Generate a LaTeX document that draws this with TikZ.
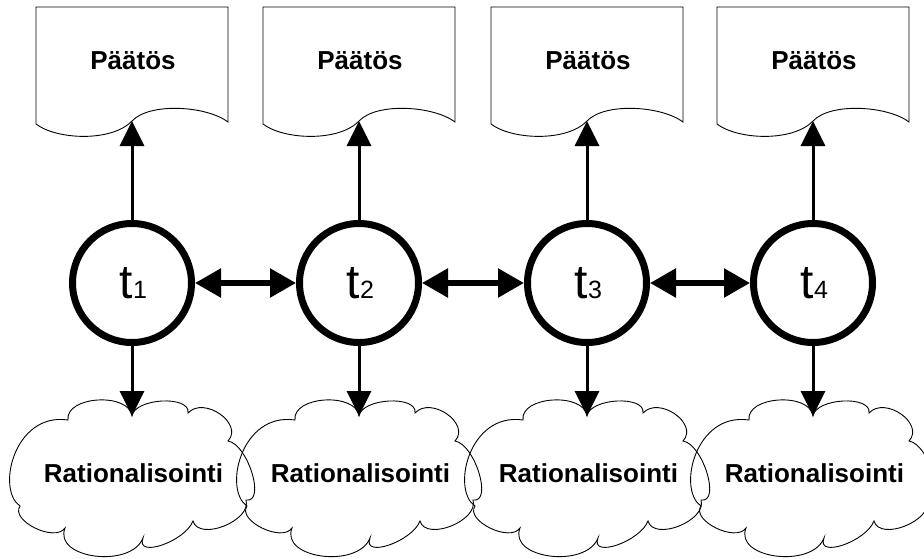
\documentclass[tikz,border=0pt]{standalone}
\usepackage{fontspec}
\setmainfont{Liberation Sans}
\usetikzlibrary{arrows.meta}
\begin{document}
\begin{tikzpicture}[x=1pt,y=-1pt,
  docline/.style={draw=black,line width=0.9pt},
  doctext/.style={anchor=base,inner sep=0pt,font=\fontsize{26}{26}\selectfont\bfseries},
  tnode/.style={circle,draw=black,line width=7pt,minimum size=119pt,inner sep=0pt},
  tlabel/.style={anchor=base,inner sep=0pt,font=\fontsize{48}{48}\selectfont},
  cloudline/.style={draw=black,line width=0.9pt},
  cloudtext/.style={anchor=base,inner sep=0pt,font=\fontsize{26}{26}\selectfont\bfseries},
  vert/.style={line width=3pt,-{Triangle[length=25pt,width=24pt]}},
  horiz/.style={line width=5.5pt,{Triangle[length=26pt,width=28pt]}-{Triangle[length=26pt,width=28pt]}}
]
\useasboundingbox[fill=white] (0,0) rectangle (924,558);
\foreach \i/\x in {1/132,2/359,3/587,4/813}{
  \draw[docline] (\x-96,7) -- (\x-96,124) .. controls (\x-75,140) and (\x-20,142) .. (\x,121)
     .. controls (\x+18,102) and (\x+75,106) .. (\x+96,122) -- (\x+96,7) -- cycle;
  \coordinate (d\i) at (\x,121);
  \node[doctext] (p\i) at (\x+1,69) {Päätös};
  \node[tnode] (t\i) at (\x,283) {};
  \node[tlabel] (l\i) at (\x+1.5,298) {t{\fontsize{25}{25}\selectfont\i}};
  \begin{scope}[shift={(\x,478)}]
    \draw[cloudline] (0,-62)
      .. controls (-3,-86) and (-67,-82) .. (-64,-58)
      .. controls (-118,-66) and (-136,12) .. (-112,28)
      .. controls (-122,42.7) and (-77,64.7) .. (-67,50)
      .. controls (-79,80.7) and (-1,90.7) .. (11,60)
      .. controls (3,80.7) and (53,63.7) .. (61,43)
      .. controls (67,63.7) and (120,42.7) .. (114,22)
      .. controls (134,25.3) and (116,-33.7) .. (96,-37)
      .. controls (112,-54.3) and (72,-82.3) .. (56,-65)
      .. controls (58.7,-83) and (2.7,-80) .. (0,-62) -- cycle;
    \coordinate (cn\i) at (0,-62);
  \end{scope}
  \node[cloudtext] (r\i) at (\x+1.5,482) {Rationalisointi};
  \draw[vert] (t\i.south) -- (cn\i);
  \draw[vert] (t\i.north) -- (d\i);
}
\draw[horiz] (t1.east) -- (t2.west);
\draw[horiz] (t2.east) -- (t3.west);
\draw[horiz] (t3.east) -- (t4.west);
\end{tikzpicture}
\end{document}
